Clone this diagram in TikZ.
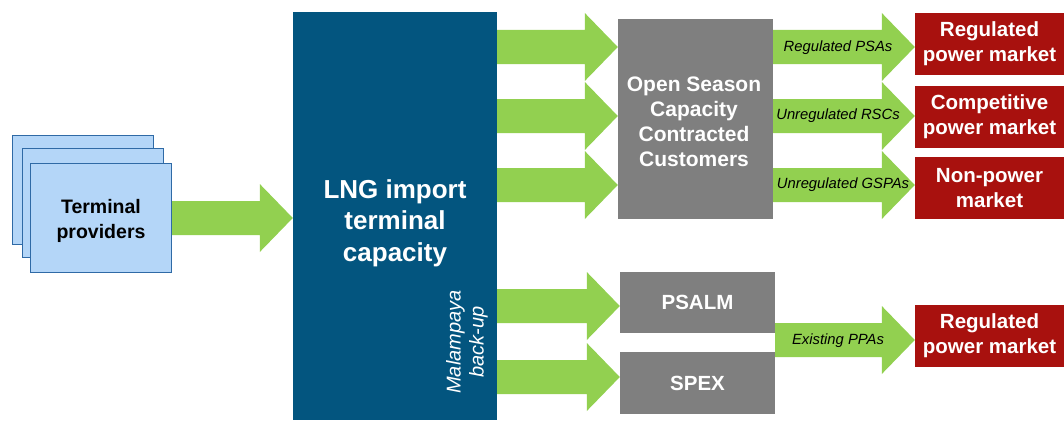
\documentclass[tikz,border=0pt]{standalone}
\usepackage{fontspec}
\setmainfont{Liberation Sans}
\usetikzlibrary{calc}
\definecolor{arrowgreen}{HTML}{92D050}
\definecolor{lngblue}{HTML}{03557F}
\definecolor{boxgray}{HTML}{7F7F7F}
\definecolor{mktred}{HTML}{A8110E}
\definecolor{provfill}{HTML}{B4D6F8}
\definecolor{provline}{HTML}{2F6AA6}
\newcommand\barrow[2]{\fill[arrowgreen] let \p1=#1, \p2=#2 in
  (\x1,\y1+17pt) -- (\x2-33pt,\y1+17pt) -- (\x2-33pt,\y1+34pt) -- (\x2,\y1)
  -- (\x2-33pt,\y1-34pt) -- (\x2-33pt,\y1-17pt) -- (\x1,\y1-17pt) -- cycle;}
\begin{document}
\begin{tikzpicture}[x=1pt,y=-1pt,
  provbox/.style={draw=provline,fill=provfill,line width=1pt,minimum width=141pt,minimum height=109pt,inner sep=0pt},
  graybox/.style={fill=boxgray,inner sep=0pt,text=white,font=\fontsize{20.5}{25}\bfseries,align=center},
  mktbox/.style={fill=mktred,inner sep=0pt,minimum width=149pt,minimum height=62pt,text=white,font=\fontsize{20.5}{25}\bfseries,align=center},
  lbl/.style={inner sep=0pt,font=\fontsize{14.8}{17}\itshape,text=black}]
\useasboundingbox (0,0) rectangle (1064,420);
% named levels
\coordinate (r1) at (0,47);
\coordinate (r2) at (0,116);
\coordinate (r3) at (0,185);
\coordinate (b1) at (0,306);
\coordinate (b2) at (0,377);
\coordinate (b3) at (0,340);
% terminal providers
\node[provbox] (prov1) at (82.5,189.5) {};
\node[provbox] (prov2) at (93,203) {};
\node[provbox] (prov3) at (101,218) {};
\node[font=\fontsize{19.5}{25}\bfseries,align=center] (provtext) at (101,221) {Terminal\\providers};
% LNG terminal
\node[fill=lngblue,minimum width=204pt,minimum height=408pt,inner sep=0pt] (lng) at (395,216) {};
\node[text=white,font=\fontsize{26}{31.5}\bfseries,align=center] (lngtext) at (395,223) {LNG import\\terminal\\capacity};
\node[text=white,rotate=90,font=\fontsize{20}{23}\itshape,align=center] (mal) at (467,342) {Malampaya\\back-up};
% gray boxes
\node[graybox,minimum width=155pt,minimum height=200pt] (osc) at (695.5,119) {};
\node[text=white,font=\fontsize{21}{25}\bfseries,align=center] (osctext) at (694,122) {Open Season\\Capacity\\Contracted\\Customers};
\node[graybox,minimum width=155pt,minimum height=61pt] (psalm) at (697.5,302.5) {PSALM};
\node[graybox,minimum width=155pt,minimum height=62pt] (spex) at (697.5,383) {SPEX};
% markets
\node[mktbox] (rpm1) at (989.5,44) {Regulated\\power market};
\node[mktbox] (cpm) at (989.5,117) {Competitive\\power market};
\node[mktbox] (npm) at (989.5,188) {Non-power\\market};
\node[mktbox] (rpm2) at (989.5,336) {Regulated\\power market};
% arrows
\barrow{(prov3.east)}{(lng.west)}
\barrow{(lng.east |- r1)}{(osc.west)}
\barrow{(lng.east |- r2)}{(osc.west)}
\barrow{(lng.east |- r3)}{(osc.west)}
\barrow{(osc.east |- r1)}{(rpm1.west)}
\barrow{(osc.east |- r2)}{(cpm.west)}
\barrow{(osc.east |- r3)}{(npm.west)}
\barrow{(lng.east |- b1)}{(psalm.west)}
\barrow{(lng.east |- b2)}{(spex.west)}
\barrow{(psalm.east |- b3)}{(rpm2.west)}
% arrow labels
\node[lbl] (l1) at (838,48) {Regulated PSAs};
\node[lbl] (l2) at (838,116) {Unregulated RSCs};
\node[lbl] (l3) at (843,185) {Unregulated GSPAs};
\node[lbl] (l4) at (838,341) {Existing PPAs};
\end{tikzpicture}
\end{document}
